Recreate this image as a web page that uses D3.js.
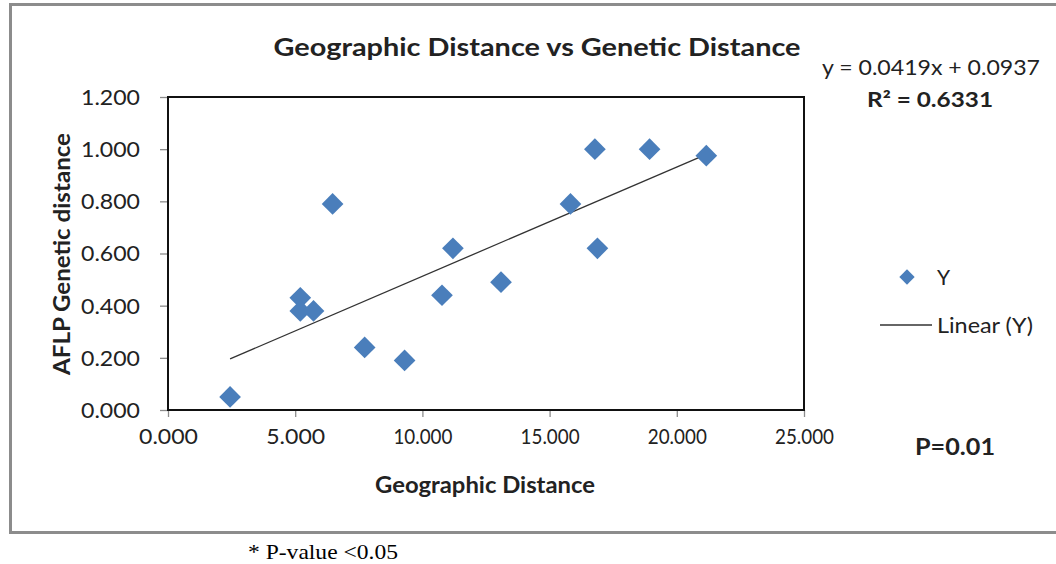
<!DOCTYPE html>
<html>
<head>
<meta charset="utf-8">
<script src="https://cdn.jsdelivr.net/npm/d3@7"></script>
<style>
  html, body { margin: 0; padding: 0; background: #fff; }
  svg { display: block; }
  text { font-family: Lato, "Open Sans", sans-serif; fill: #222; }
  text.note { font-family: "Liberation Serif", "Times New Roman", serif; fill: #000; }
</style>
</head>
<body>
<svg id="chart" width="1056" height="564"></svg>
<script>
// Geographic distance (x) and AFLP genetic distance (y) per population pair
const geoDistance = [2.44, 5.20, 5.20, 5.72, 6.47, 7.73, 9.30, 10.77, 11.20, 13.09, 15.82, 16.78, 16.88, 18.93, 21.16];
const geneticDistance = [0.05, 0.43, 0.38, 0.38, 0.79, 0.24, 0.19, 0.44, 0.62, 0.49, 0.79, 1.00, 0.62, 1.00, 0.975];

// Linear trend line coefficients
const slope = 0.0419;
const intercept = 0.0937;
const rSquared = "0.6331";

const xTicks = [0, 5, 10, 15, 20, 25];
const yTicks = [0, 0.2, 0.4, 0.6, 0.8, 1.0, 1.2];

const svg = d3.select("#chart");
const plot = { left: 168, right: 804, top: 97, bottom: 410 };

const x = d3.scaleLinear().domain([0, 25]).range([plot.left, plot.right]);
const y = d3.scaleLinear().domain([0, 1.2]).range([plot.bottom, plot.top]);
const fmt = d3.format(".3f");

// Outer chart frame
svg.append("rect")
  .attr("x", 10.5).attr("y", 4.5)
  .attr("width", 1060).attr("height", 528)
  .attr("fill", "#fff").attr("stroke", "#8c8c8c").attr("stroke-width", 3);

// Title
svg.append("text")
  .attr("x", 537).attr("y", 56)
  .attr("text-anchor", "middle")
  .attr("font-size", 25).attr("font-weight", "bold")
  .attr("textLength", 527).attr("lengthAdjust", "spacingAndGlyphs")
  .text("Geographic Distance vs Genetic Distance");

// Axes
const xAxis = svg.append("g")
  .attr("transform", `translate(0,${plot.bottom})`)
  .call(d3.axisBottom(x).tickValues(xTicks).tickFormat(fmt).tickSizeOuter(0).tickSizeInner(7).tickPadding(12));
const yAxis = svg.append("g")
  .attr("transform", `translate(${plot.left},0)`)
  .call(d3.axisLeft(y).tickValues(yTicks).tickFormat(fmt).tickSizeOuter(0).tickSizeInner(8).tickPadding(20));

[xAxis, yAxis].forEach(g => {
  g.select(".domain").remove();
  g.selectAll(".tick line").attr("stroke", "#8c8c8c").attr("stroke-width", 1.3);
  g.selectAll(".tick text")
    .attr("font-family", "Lato, 'Open Sans', sans-serif")
    .attr("font-size", 21).attr("fill", "#222")
    .attr("textLength", 59).attr("lengthAdjust", "spacingAndGlyphs");
});
yAxis.selectAll(".tick text").attr("dy", "0.35em");

// Plot area border
svg.append("rect")
  .attr("x", plot.left).attr("y", plot.top)
  .attr("width", plot.right - plot.left).attr("height", plot.bottom - plot.top)
  .attr("fill", "none").attr("stroke", "#111").attr("stroke-width", 2);

// Trend line across the observed x range
const [xMin, xMax] = d3.extent(geoDistance);
svg.append("line")
  .attr("x1", x(xMin)).attr("y1", y(slope * xMin + intercept))
  .attr("x2", x(xMax)).attr("y2", y(slope * xMax + intercept))
  .attr("stroke", "#333").attr("stroke-width", 1.3);

// Data points as diamonds
const diamond = d3.symbol().type(d3.symbolDiamond2).size(300);
svg.append("g").selectAll("path")
  .data(geoDistance.map((g, i) => [g, geneticDistance[i]]))
  .join("path")
  .attr("transform", d => `translate(${x(d[0])},${y(d[1])})`)
  .attr("d", diamond)
  .attr("fill", "#4a7ebb");

// Axis titles
svg.append("text")
  .attr("x", 485).attr("y", 493)
  .attr("text-anchor", "middle")
  .attr("font-size", 22).attr("font-weight", "bold")
  .attr("textLength", 220).attr("lengthAdjust", "spacingAndGlyphs")
  .text("Geographic Distance");

svg.append("text")
  .attr("transform", "translate(70,254) rotate(-90)")
  .attr("text-anchor", "middle")
  .attr("font-size", 22).attr("font-weight", "bold")
  .attr("textLength", 242).attr("lengthAdjust", "spacingAndGlyphs")
  .text("AFLP Genetic distance");

// Regression equation and R²
svg.append("text")
  .attr("x", 931).attr("y", 75)
  .attr("text-anchor", "middle")
  .attr("font-size", 21)
  .attr("textLength", 218).attr("lengthAdjust", "spacingAndGlyphs")
  .text(`y = ${slope}x + ${intercept}`);
svg.append("text")
  .attr("x", 930).attr("y", 107)
  .attr("text-anchor", "middle")
  .attr("font-size", 21).attr("font-weight", "bold")
  .attr("textLength", 126).attr("lengthAdjust", "spacingAndGlyphs")
  .text(`R² = ${rSquared}`);

// Legend
svg.append("path")
  .attr("transform", "translate(907,277)")
  .attr("d", d3.symbol().type(d3.symbolDiamond2).size(150))
  .attr("fill", "#4a7ebb");
svg.append("text")
  .attr("x", 937).attr("y", 285)
  .attr("font-size", 21)
  .text("Y");
svg.append("line")
  .attr("x1", 880).attr("x2", 932).attr("y1", 325).attr("y2", 325)
  .attr("stroke", "#333").attr("stroke-width", 1.3);
svg.append("text")
  .attr("x", 937).attr("y", 333)
  .attr("font-size", 21)
  .attr("textLength", 96).attr("lengthAdjust", "spacingAndGlyphs")
  .text("Linear (Y)");

// Significance
svg.append("text")
  .attr("x", 955).attr("y", 455)
  .attr("text-anchor", "middle")
  .attr("font-size", 23).attr("font-weight", "bold")
  .attr("textLength", 80).attr("lengthAdjust", "spacingAndGlyphs")
  .text("P=0.01");

// Footnote
svg.append("text")
  .attr("class", "note")
  .attr("x", 248).attr("y", 559)
  .attr("font-size", 22)
  .attr("textLength", 150).attr("lengthAdjust", "spacingAndGlyphs")
  .text("* P-value <0.05");
</script>
</body>
</html>
